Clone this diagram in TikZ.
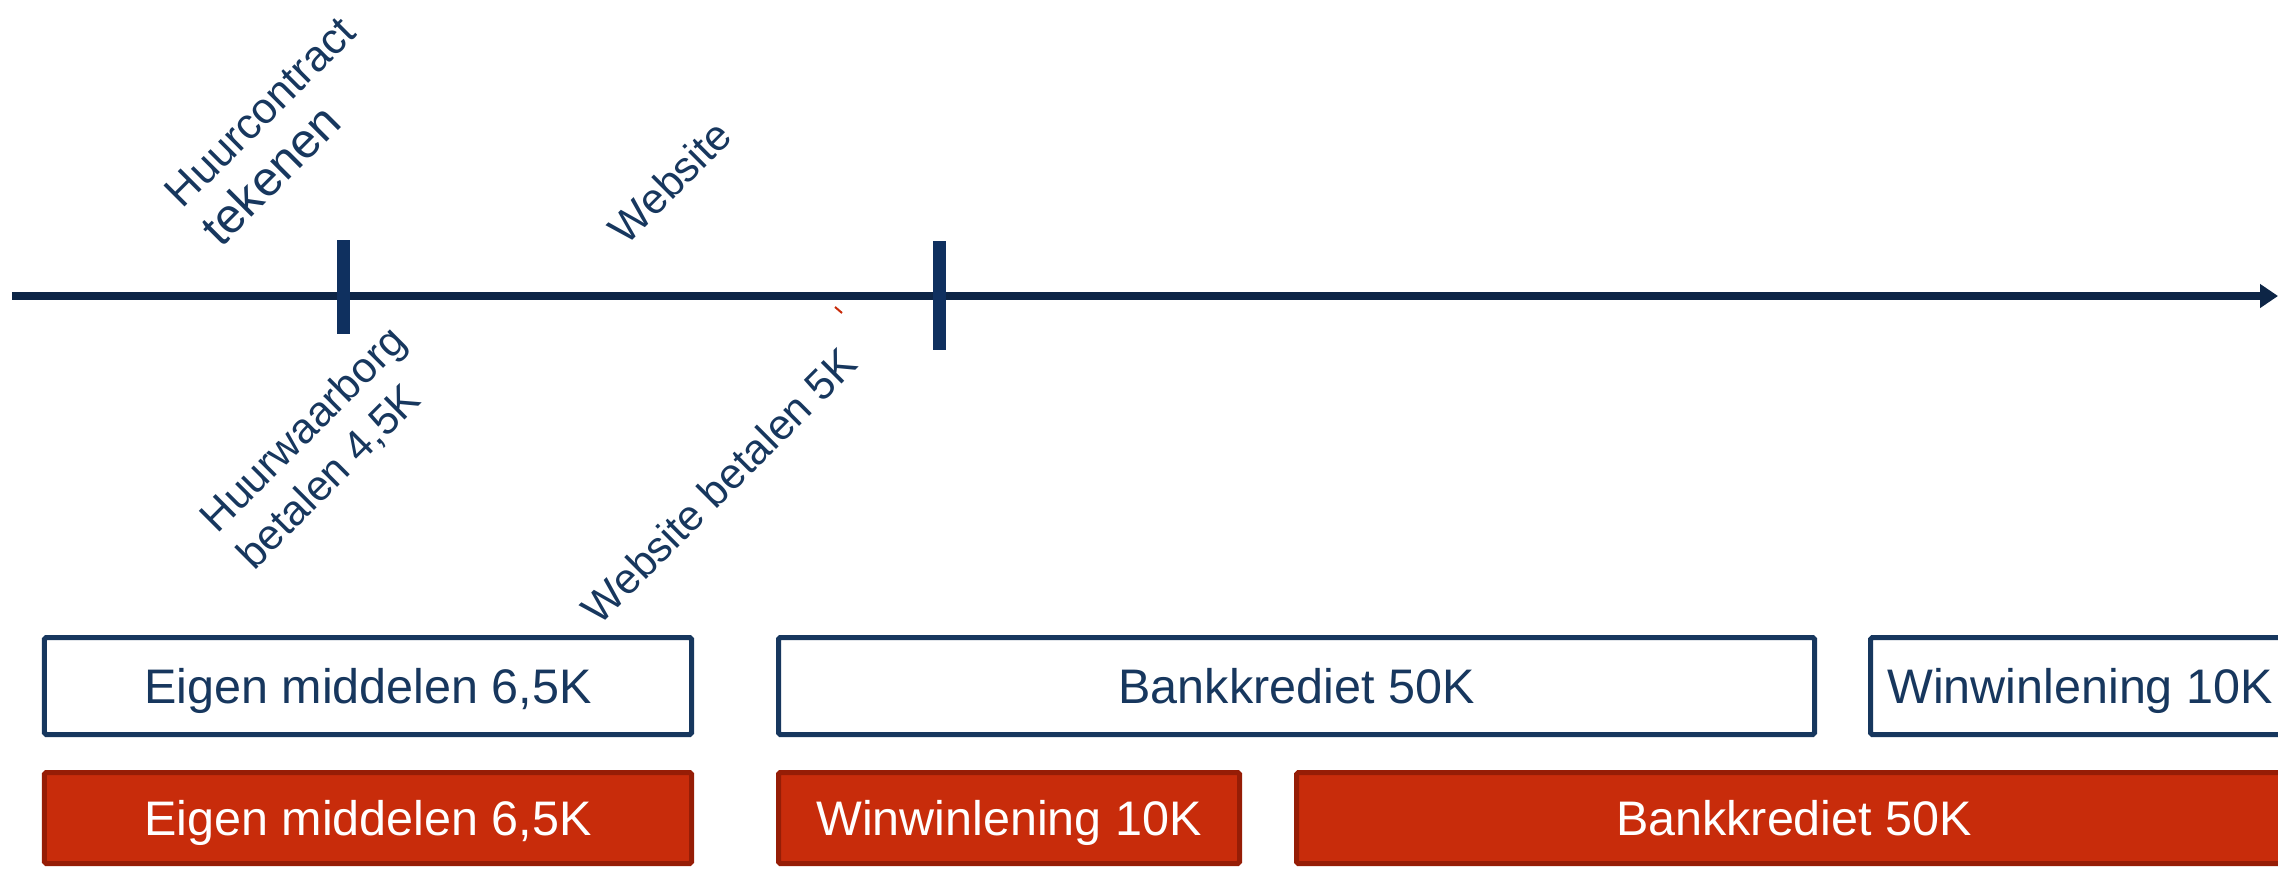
\documentclass[tikz,border=0pt]{standalone}
\usepackage{fontspec}
\setmainfont{Liberation Sans}
\usetikzlibrary{arrows.meta}
\definecolor{navy}{HTML}{0D2546}
\definecolor{ticknavy}{HTML}{0F305F}
\definecolor{textnavy}{HTML}{17375E}
\definecolor{boxred}{HTML}{C82C0B}
\definecolor{boxredline}{HTML}{961D06}

\begin{document}
\begin{tikzpicture}[
	lbl/.style={rotate=45, inner sep=0, text depth=0pt, text=textnavy, font=\fontsize{12.1}{14.7}\selectfont},
	marker/.style={line width=0.13cm, ticknavy},
	topbox/.style={draw=textnavy, line width=0.05cm, fill=white, text=textnavy, minimum height=0.97cm, inner sep=0, text height=9.9pt, text depth=0pt, font=\fontsize{13.8}{16}\selectfont, rounded corners=0.5pt},
	redbox/.style={draw=boxredline, line width=0.05cm, fill=boxred, text=white, minimum height=0.91cm, inner sep=0, text height=9.9pt, text depth=0pt, font=\fontsize{13.8}{16}\selectfont, rounded corners=0.5pt}
	]
	\useasboundingbox (0,0) rectangle (22.78,8.68);
	\clip (0,0) rectangle (22.78,8.68);
	% tijdlijn
	\coordinate (start) at (0.12,5.72);
	\coordinate (end) at (22.78,5.72);
	\draw[navy, line width=0.072cm, -{Triangle[length=0.18cm,width=0.23cm]}] (start) -- (end);
	\coordinate (t1top) at (3.43,6.28);
	\coordinate (t1bot) at (3.43,5.34);
	\coordinate (t2top) at (9.39,6.27);
	\coordinate (t2bot) at (9.39,5.18);
	\draw[marker] (t1top) -- (t1bot);
	\draw[marker] (t2top) -- (t2bot);
	
	% labels
	\node[lbl, anchor=south west, align=left, font=\fontsize{12.3}{15.3}\selectfont] (huurcontract) at (2.21,6.19) {Huurcontract\\{\fontsize{13.9}{15.3}\selectfont tekenen}};
	\node[lbl, anchor=base west] (website) at (6.26,6.21) {Website};
	\node[lbl, anchor=south west, align=left] (waarborg) at (2.54,2.96) {Huurwaarborg\\betalen 4,5K};
	\node[lbl, anchor=base west] (webbetalen) at (5.99,2.41) {Website betalen 5K};
	\draw[boxred, line width=0.02cm] (8.35,5.61) -- (8.42,5.55);
	
	% financiering
	\node[topbox, minimum width=6.47cm] (eigen) at (3.68,1.82) {Eigen middelen 6,5K};
	\node[topbox, minimum width=10.36cm] (bank) at (12.965,1.82) {Bankkrediet 50K};
	\node[topbox, minimum width=4.19cm] (winwin) at (20.80,1.82) {Winwinlening 10K};
	\node[redbox, minimum width=6.47cm] (eigenrood) at (3.68,0.50) {Eigen middelen 6,5K};
	\node[redbox, minimum width=4.61cm] (winwinrood) at (10.09,0.50) {Winwinlening 10K};
	\node[redbox, minimum width=9.95cm] (bankrood) at (17.94,0.50) {Bankkrediet 50K};
\end{tikzpicture}
\end{document}
